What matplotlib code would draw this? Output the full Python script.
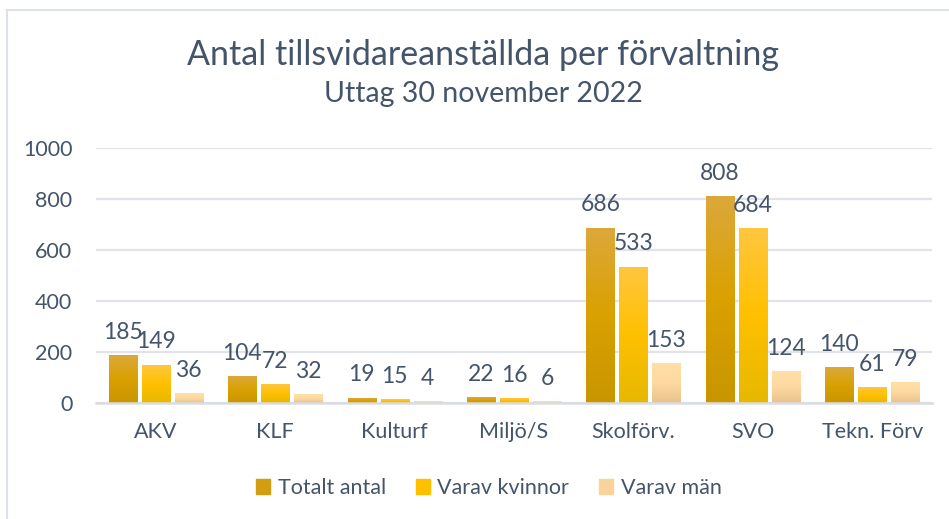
import numpy as np
import matplotlib
matplotlib.use("Agg")
from matplotlib import pyplot as plt
import matplotlib.patches as mpatches
from matplotlib.lines import Line2D
from matplotlib.colors import LinearSegmentedColormap

plt.rcParams['font.family'] = ['Lato', 'DejaVu Sans']

categories = ['AKV', 'KLF', 'Kulturf', 'Miljö/S', 'Skolförv.', 'SVO', 'Tekn. Förv']
totalt = [185, 104, 19, 22, 686, 808, 140]
kvinnor = [149, 72, 15, 16, 533, 684, 61]
man = [36, 32, 4, 6, 153, 124, 79]
series_names = ['Totalt antal', 'Varav kvinnor', 'Varav män']
yticks = [0, 200, 400, 600, 800, 1000]

TEXT = '#44546a'
GRID = '#e0e3e9'

# gradient stops top -> bottom for each series
gradients = [
    ['#dca83b', '#d9a100', '#c99600'],
    ['#ffc63f', '#ffc000', '#e6b800'],
    ['#ffdfa6', '#fdd9a0', '#e8c28a'],
]
mid_colors = ['#d39d12', '#ffc000', '#f8d49c']

fig = plt.figure(figsize=(9.49, 5.19), dpi=100)
ax = fig.add_axes([96 / 949, 1 - 403 / 519, 836 / 949, 255 / 519])

x = np.arange(len(categories))
bw = 0.2345
step = 0.2764

for i, vals in enumerate([totalt, kvinnor, man]):
    cmap = LinearSegmentedColormap.from_list('g%d' % i, gradients[i][::-1])
    grad = np.linspace(0, 1, 256).reshape(-1, 1)
    bars = ax.bar(x + (i - 1) * step, vals, bw, color='none', edgecolor='none', zorder=3)
    for rect, v in zip(bars, vals):
        x0, y0 = rect.get_x(), rect.get_y()
        ax.imshow(grad, cmap=cmap, origin='lower', aspect='auto', zorder=3,
                  extent=(x0, x0 + rect.get_width(), y0, y0 + rect.get_height()))
        ax.annotate(str(v), (x0 + rect.get_width() / 2, v), xytext=(0, 12),
                    textcoords='offset points', ha='center', va='baseline',
                    fontsize=16.5, color=TEXT, zorder=5)

ax.set_xlim(-0.5, len(categories) - 0.5)
ax.set_ylim(0, 1000)
ax.set_yticks(yticks)
ax.set_xticks(x)
ax.set_xticklabels(categories)
ax.yaxis.grid(True, color=GRID, linewidth=1.6, zorder=0)
ax.set_axisbelow(True)
for s in ['top', 'right', 'left']:
    ax.spines[s].set_visible(False)
ax.spines['bottom'].set_color('#d9dde3')
ax.spines['bottom'].set_linewidth(1.8)
ax.spines['bottom'].set_zorder(4)
ax.tick_params(axis='both', length=0, labelsize=15.5, labelcolor=TEXT)
ax.tick_params(axis='y', pad=17)
ax.tick_params(axis='x', pad=14)

fig.text(483 / 949, 1 - 65 / 519, 'Antal tillsvidareanställda per förvaltning',
         ha='center', va='baseline', fontsize=24.5, color=TEXT)
fig.text(483 / 949, 1 - 102 / 519, 'Uttag 30 november 2022',
         ha='center', va='baseline', fontsize=20.5, color=TEXT)

handles = [mpatches.Patch(color=c, label=n) for c, n in zip(mid_colors, series_names)]
fig.legend(handles=handles, loc='center', bbox_to_anchor=(489 / 949, 1 - 488 / 519),
           ncol=3, frameon=False, fontsize=15.5, labelcolor=TEXT,
           handlelength=0.64, handleheight=0.64, handletextpad=0.35, columnspacing=1.4)

# chart border (top and left visible)
fig.add_artist(Line2D([7 / 949, 7 / 949], [1 - 10 / 519, -0.05], transform=fig.transFigure,
                      color='#dde1e8', linewidth=1.5))
fig.add_artist(Line2D([7 / 949, 1.05], [1 - 10 / 519, 1 - 10 / 519], transform=fig.transFigure,
                      color='#dde1e8', linewidth=1.5))

fig.savefig('out.png', dpi=100)
